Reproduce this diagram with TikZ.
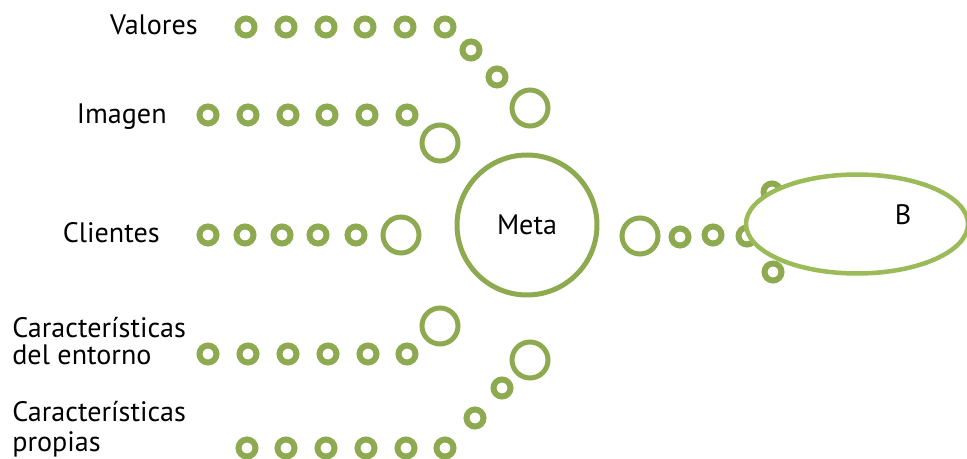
\documentclass[tikz,border=0pt]{standalone}
\usepackage{fontspec}
\setmainfont{PT Sans}
\usetikzlibrary{shapes}
\definecolor{ringgreen}{RGB}{142,170,80}
\definecolor{ellgreen}{RGB}{155,187,89}

\begin{document}
\begin{tikzpicture}[x=0.02cm, y=-0.02cm,
  every node/.style = {font=\fontsize{16}{14.9}\selectfont},
  dot/.style = {circle, draw=ringgreen, line width=0.12cm,
    inner sep=0pt, minimum size=0.34cm},
  bigdot/.style = {circle, draw=ringgreen, line width=0.1cm,
    inner sep=0pt, minimum size=0.72cm},
  tag/.style = {inner sep=0pt, align=left}]
  \useasboundingbox (0,0) rectangle (967,459);

  % Valores
  \node[tag, anchor=base east] (valores) at (198,35) {Valores};
  \foreach \x [count=\i] in {246,286,326,365,405,445}
    \node[dot] (val\i) at (\x,27) {};
  \node[dot] (val7) at (471,50) {};
  \node[dot] (val8) at (497,77) {};
  \node[bigdot] (val9) at (530,108) {};

  % Imagen
  \node[tag, anchor=base east] (imagen) at (167,124) {Imagen};
  \foreach \x [count=\i] in {208,248,288,327,367,407}
    \node[dot] (img\i) at (\x,115) {};
  \node[bigdot] (img7) at (440,143) {};

  % Clientes
  \node[tag, anchor=base east] (clientes) at (160,243) {Clientes};
  \foreach \x [count=\i] in {208,245,282,318,356}
    \node[dot] (cli\i) at (\x,235) {};
  \node[bigdot] (cli6) at (401,235) {};

  % Caracteristicas del entorno
  \node[tag, anchor=base west] (entorno) at (12,364) {Características\\del entorno};
  \foreach \x [count=\i] in {208,248,288,328,368,407}
    \node[dot] (ent\i) at (\x,354) {};
  \node[bigdot] (ent7) at (440,326) {};

  % Caracteristicas propias
  \node[tag, anchor=base west] (propias) at (12,451) {Características\\[2pt]propias};
  \foreach \x [count=\i] in {247,286,326,366,406,445}
    \node[dot] (pro\i) at (\x,448) {};
  \node[dot] (pro7) at (475,418) {};
  \node[dot] (pro8) at (502,388) {};
  \node[bigdot] (pro9) at (530,360) {};

  % Meta
  \node[circle, draw=ringgreen, line width=0.1cm, minimum size=2.8cm] (meta) at (527,225) {Meta};

  % hacia B
  \node[bigdot] (der1) at (640,236) {};
  \node[dot] (der2) at (680,237) {};
  \node[dot] (der3) at (713,235) {};
  \node[dot] (der4) at (747,236) {};
  \node[dot] (der5) at (772,192) {};
  \node[ellipse, draw=ellgreen, fill=white, line width=0.09cm,
    minimum width=4.44cm, minimum height=1.98cm] (b) at (857,224) {};
  \node (btext) at (903,215) {B};
  \node[dot] (der6) at (773,272) {};
\end{tikzpicture}
\end{document}
